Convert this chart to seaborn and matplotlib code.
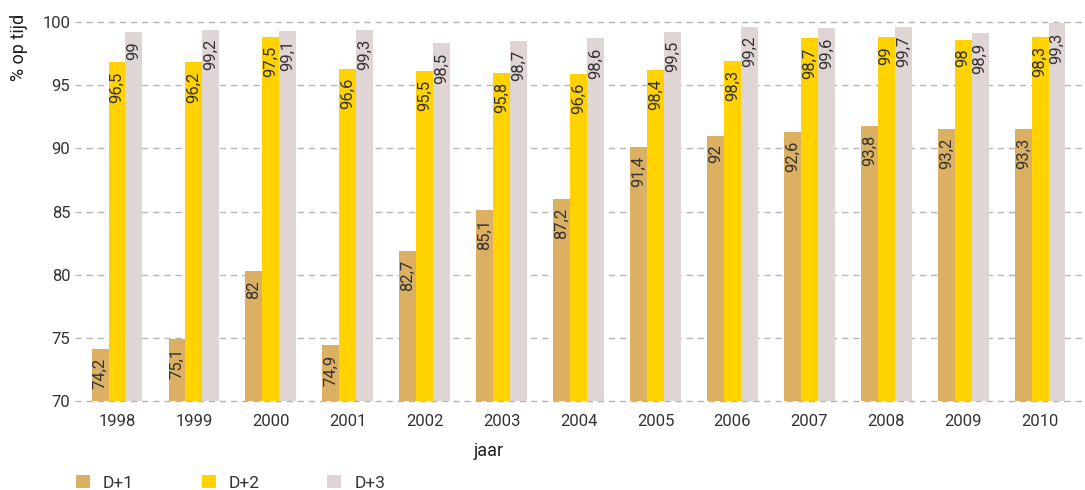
import numpy as np
import pandas as pd
import matplotlib
matplotlib.use("Agg")
import matplotlib.pyplot as plt
import seaborn as sns

# ---- data ----
years = ["1998", "1999", "2000", "2001", "2002", "2003", "2004",
         "2005", "2006", "2007", "2008", "2009", "2010"]
series = ["D+1", "D+2", "D+3"]
# bar heights as drawn in the reference
d1 = [74.1, 74.9, 80.3, 74.4, 81.9, 85.1, 86.0, 90.1, 91.0, 91.3, 91.8, 91.55, 91.55]
d2 = [96.8, 96.8, 98.8, 96.3, 96.1, 96.0, 95.9, 96.2, 96.9, 98.7, 98.8, 98.6, 98.8]
d3 = [99.2, 99.4, 99.3, 99.4, 98.3, 98.5, 98.7, 99.2, 99.6, 99.5, 99.6, 99.1, 99.9]
# printed value labels
lab1 = ["74,2", "75,1", "82", "74,9", "82,7", "85,1", "87,2", "91,4", "92", "92,6", "93,8", "93,2", "93,3"]
lab2 = ["96,5", "96,2", "97,5", "96,6", "95,5", "95,8", "96,6", "98,4", "98,3", "98,7", "99", "98", "98,3"]
lab3 = ["99", "99,2", "99,1", "99,3", "98,5", "98,7", "98,6", "99,5", "99,2", "99,6", "99,7", "98,9", "99,3"]
yticks = [70, 75, 80, 85, 90, 95, 100]
colors = ["#DBB062", "#FFD200", "#E0D5D5"]

df = pd.DataFrame({
    "jaar": years * 3,
    "serie": [series[0]] * len(years) + [series[1]] * len(years) + [series[2]] * len(years),
    "waarde": d1 + d2 + d3,
})
labels = [lab1, lab2, lab3]

sns.set_theme(style="white")
plt.rcParams["font.family"] = ["Roboto", "DejaVu Sans"]
txt = "#333333"
fs = 12

W, H = 1085, 490
fig = plt.figure(figsize=(W / 100, H / 100), dpi=100)
ax = fig.add_axes([75 / W, 1 - 401 / H, 1010 / W, 379 / H])

sns.barplot(data=df, x="jaar", y="waarde", hue="serie", hue_order=series,
            palette=colors, width=0.66, gap=0, saturation=1, linewidth=0,
            ax=ax, zorder=3)

ax.set_ylim(70, 100)
ax.set_xlim(-0.546, 12.584)
ax.set_yticks(yticks)
ax.yaxis.grid(True, linestyle=(0, (4.5, 3.5)), color="#b4b4b4", linewidth=1.0, zorder=0, clip_on=False)
ax.xaxis.grid(False)
ax.set_axisbelow(True)
for s in ax.spines.values():
    s.set_visible(False)
ax.tick_params(axis="both", length=0, labelsize=fs, labelcolor=txt)
ax.tick_params(axis="y", pad=3.4)
ax.tick_params(axis="x", pad=9.0)
ax.set_xlabel("")
ax.set_ylabel("")

for cont, labs in zip(ax.containers, labels):
    for p, lab in zip(cont.patches, labs):
        x = p.get_x() + p.get_width() / 2
        top = p.get_y() + p.get_height()
        ax.annotate(lab, (x, top), xytext=(0, -6.5), textcoords="offset points",
                    rotation=90, ha="center", va="top", fontsize=fs, color=txt,
                    zorder=4)

handles, leg_labels = ax.get_legend_handles_labels()
if ax.get_legend() is not None:
    ax.get_legend().remove()
fig.legend(handles, leg_labels, loc="center left", bbox_to_anchor=(76 / W, 1 - 483 / H),
           ncol=3, frameon=False, fontsize=12.5, handlelength=0.8, handleheight=0.8,
           handletextpad=0.75, columnspacing=3.9, borderpad=0, borderaxespad=0,
           labelcolor=txt)

fig.text(19.5 / W, 1 - 14 / H, "% op tijd", rotation=90, va="top", ha="center",
         fontsize=13, color="#1e1e1e")
fig.text(489 / W, 1 - 451 / H, "jaar", va="center", ha="center", fontsize=13, color="#1e1e1e")

fig.savefig("out.png", dpi=100)
